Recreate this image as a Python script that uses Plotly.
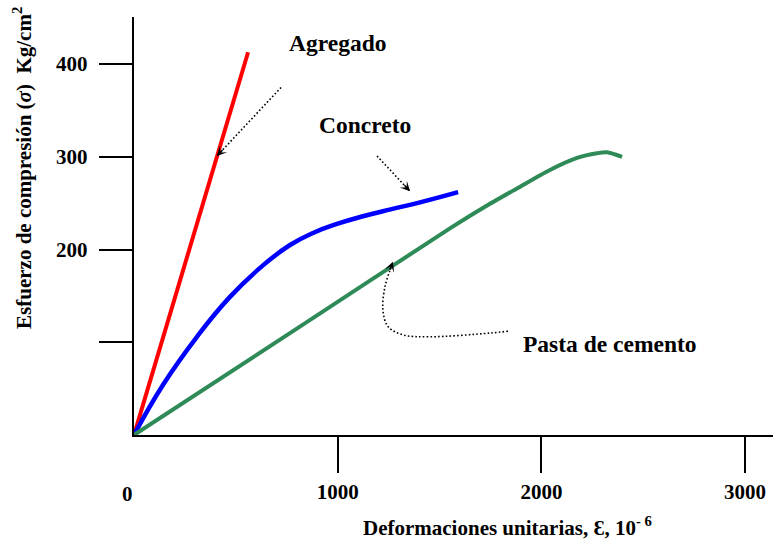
import plotly.graph_objects as go

# ---------------- data ----------------
# strain in 10^-6, stress in kg/cm2
agregado_x = [0, 560]
agregado_y = [0, 413]

concreto_x = [0, 142, 309, 471, 633, 766, 879, 1000, 1124, 1260, 1404, 1591]
concreto_y = [0, 54, 106, 149, 183, 205, 218, 228, 236, 243.5, 251, 262]

pasta_x = [0, 850, 1551, 1713, 1880, 2042, 2175, 2273, 2322, 2396]
pasta_y = [0, 122, 223, 245, 266, 286, 299, 304, 305, 300]

x_tick_values = [1000, 2000, 3000]
x_tick_labels = ["1000", "2000", "3000"]
y_tick_values = [100, 200, 300, 400]
y_tick_labels = ["", "200", "300", "400"]

series_names = ["Agregado", "Concreto", "Pasta de cemento"]

# leader-line geometry for the text callouts (data units)
lead_agregado_x = [722, 407]
lead_agregado_y = [375, 301]
lead_concreto_x = [1193, 1355]
lead_concreto_y = [301, 263]
lead_pasta_x = [1836, 1748, 1453, 1321, 1247, 1222, 1232, 1257, 1271]
lead_pasta_y = [112, 110, 106, 108, 117, 135, 160, 178, 187]

# ---------------- figure ----------------
SERIF = "Liberation Serif"
fig = go.Figure()

fig.add_trace(go.Scatter(x=agregado_x, y=agregado_y, mode="lines",
                         line=dict(color="#ff0000", width=4), name=series_names[0]))
fig.add_trace(go.Scatter(x=concreto_x, y=concreto_y, mode="lines",
                         line=dict(color="#0000ff", width=4.5, shape="spline", smoothing=1.3),
                         name=series_names[1]))
fig.add_trace(go.Scatter(x=pasta_x, y=pasta_y, mode="lines",
                         line=dict(color="#2e8b57", width=4, shape="spline", smoothing=0.8),
                         name=series_names[2]))

dot = dict(color="black", width=1.6, dash="1.6px,2.2px")
fig.add_trace(go.Scatter(x=lead_agregado_x, y=lead_agregado_y, mode="lines", line=dot, hoverinfo="skip"))
fig.add_trace(go.Scatter(x=lead_concreto_x, y=lead_concreto_y, mode="lines", line=dot, hoverinfo="skip"))
fig.add_trace(go.Scatter(x=lead_pasta_x, y=lead_pasta_y, mode="lines",
                         line=dict(dot, shape="spline", smoothing=1.0), hoverinfo="skip"))

# arrow heads at the ends of the leader lines
heads = [
    (lead_agregado_x[-1], lead_agregado_y[-1], 7, -7.5),
    (lead_concreto_x[-1], lead_concreto_y[-1], -7, -7.5),
    (lead_pasta_x[-1], lead_pasta_y[-1], -3.5, 9.5),
]
for hx, hy, ax, ay in heads:
    fig.add_annotation(x=hx, y=hy, xref="x", yref="y", ax=ax, ay=ay, text="",
                       showarrow=True, arrowhead=3, arrowsize=1.1, arrowwidth=1.5,
                       arrowcolor="black", standoff=0)

label_font = dict(family=SERIF, size=23.5, color="black")
fig.add_annotation(x=997, y=423, xref="x", yref="y", text="<b>" + series_names[0] + "</b>",
                   showarrow=False, font=label_font)
fig.add_annotation(x=1134, y=335, xref="x", yref="y", text="<b>" + series_names[1] + "</b>",
                   showarrow=False, font=label_font)
fig.add_annotation(x=2337, y=98, xref="x", yref="y", text="<b>" + series_names[2] + "</b>",
                   showarrow=False, font=label_font)

tick_font = dict(family=SERIF, size=21, color="black")
# "0" label at the origin
fig.add_annotation(x=0, y=0, xref="x", yref="paper", text="<b>0</b>", showarrow=False,
                   font=tick_font, yanchor="middle", xanchor="center", xshift=-7, yshift=-59)

# y tick labels, set further out from the tick marks as in the reference
for v, t in zip(y_tick_values, y_tick_labels):
    if t:
        fig.add_annotation(x=0, y=v, xref="paper", yref="y", text="<b>" + t + "</b>",
                           showarrow=False, font=tick_font, xanchor="right",
                           yanchor="middle", xshift=-44)

# axis titles
fig.add_annotation(x=0.585, y=-0.22, xref="paper", yref="paper",
                   text="<b>Deformaciones unitarias, Ɛ, 10<sup>- 6</sup></b>",
                   showarrow=False, font=dict(family=SERIF, size=21, color="black"),
                   xanchor="center", yanchor="middle")
fig.add_annotation(x=-0.1737, y=0.639, xref="paper", yref="paper",
                   text="<b>Esfuerzo de compresión (<i>σ</i>)\u00a0\u00a0Kg/cm<sup>2</sup></b>",
                   textangle=-90, showarrow=False,
                   font=dict(family=SERIF, size=21, color="black"),
                   xanchor="center", yanchor="middle")

fig.update_layout(
    width=773, height=541,
    margin=dict(l=134, r=0, t=17, b=106),
    paper_bgcolor="white", plot_bgcolor="white",
    showlegend=False,
    xaxis=dict(range=[0, 3137], showline=True, linecolor="black", linewidth=2,
               showgrid=False, zeroline=False, ticks="outside", ticklen=36,
               tickwidth=1.5, tickcolor="black", tickvals=x_tick_values,
               ticktext=["<b>" + t + "</b>" for t in x_tick_labels],
               tickfont=tick_font, ticklabelstandoff=1, fixedrange=True),
    yaxis=dict(range=[0, 451], showline=True, linecolor="black", linewidth=2,
               showgrid=False, zeroline=False, ticks="outside", ticklen=33,
               tickwidth=1.5, tickcolor="black", tickvals=y_tick_values,
               showticklabels=False, fixedrange=True),
)

fig.write_html("out.html")
